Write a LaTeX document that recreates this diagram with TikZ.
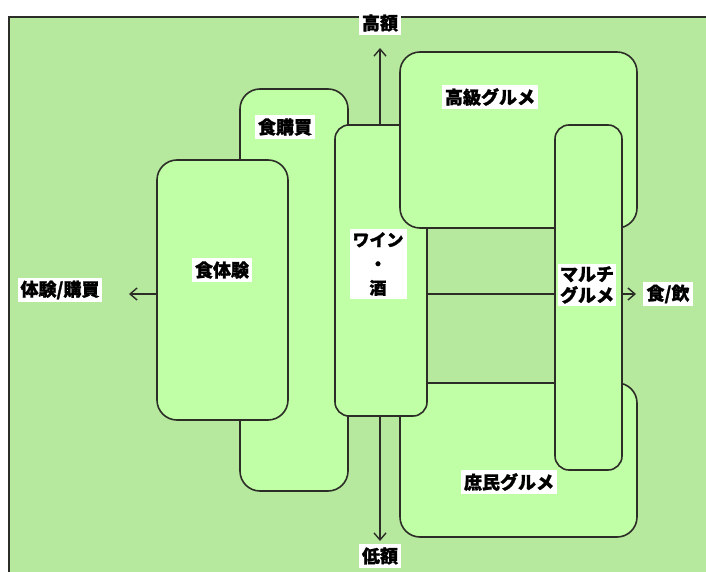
\documentclass[tikz,border=0pt]{standalone}
\usepackage{fontspec}
\newfontfamily\jp{Noto Sans CJK JP}[BoldFeatures={FakeBold=1.2}]
\usetikzlibrary{arrows.meta}
\definecolor{bggreen}{RGB}{182,233,158}
\definecolor{boxgreen}{RGB}{192,255,166}
\definecolor{edge}{RGB}{45,45,40}
\begin{document}
\begin{tikzpicture}[x=1pt,y=-1pt,
  area/.style={draw=edge, line width=1.6pt, fill=boxgreen, rounded corners=20pt, inner sep=0pt, outer sep=0pt},
  lab/.style={fill=white, inner sep=3pt, font=\jp\bfseries\fontsize{18}{21}\selectfont, align=center},
  axis/.style={draw=edge, line width=1.4pt, -{Straight Barb[length=7pt,width=12pt]}}]
\useasboundingbox (0,0) rectangle (706,572);
% background
\fill[bggreen] (9,17) rectangle (706,572);
\draw[edge, line width=1.4pt] (9,572) -- (9,17) -- (706,17);
% axes
\coordinate (O) at (380,294);
\coordinate (T) at (380,48);
\coordinate (B) at (380,541);
\coordinate (L) at (129,294);
\coordinate (R) at (636,294);
\draw[axis] (O) -- (T);
\draw[axis] (O) -- (B);
\draw[axis] (O) -- (L);
\draw[axis] (O) -- (R);
% boxes
\node[area, minimum width=108pt, minimum height=402pt] (kobai) at (294,290) {};
\node[area, minimum width=131pt, minimum height=260pt] (taiken) at (222.5,290) {};
\node[area, minimum width=237pt, minimum height=154pt] (shomin) at (518.5,460) {};
\node[area, minimum width=92pt, minimum height=291pt, rounded corners=14pt] (wine) at (381,270.5) {};
\node[area, minimum width=237pt, minimum height=176pt] (koukyu) at (518.5,140) {};
\node[area, minimum width=67pt, minimum height=345pt, rounded corners=14pt] (multi) at (588.5,297.5) {};
% labels
\node[lab] (lhigh) at (380,23) {高額};
\node[lab] (llow) at (380,556) {低額};
\node[lab] (lexp) at (60,290) {体験/購買};
\node[lab, inner xsep=4pt] (lfood) at (668,294) {食/飲};
\node[lab] (lkobai) at (285,127) {食購買};
\node[lab] (ltaiken) at (222,270) {食体験};
\node[lab, font=\jp\bfseries\fontsize{17}{24}\selectfont] (lwine) at (378,264) {ワイン\\・\\酒};
\node[lab] (lkoukyu) at (490,97) {高級グルメ};
\node[lab, inner sep=2pt] (lmulti) at (587,285) {マルチ\\グルメ};
\node[lab] (lshomin) at (509,482) {庶民グルメ};
\end{tikzpicture}
\end{document}
